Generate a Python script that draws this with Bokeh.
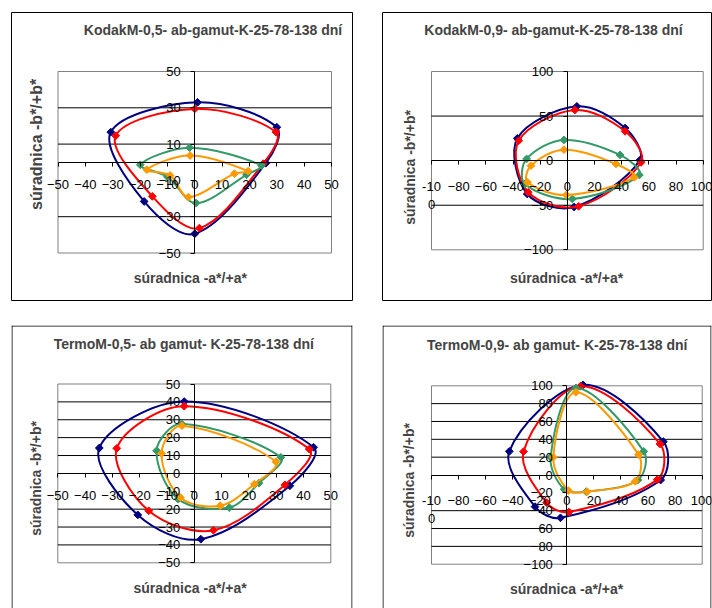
import math
from bokeh.plotting import figure
from bokeh.models import LinearAxis, FixedTicker, Label, Range1d, Span
from bokeh.layouts import column, row
from bokeh.embed import file_html
from bokeh.resources import INLINE

# ---------------- data (a*, b*) ; point order: Y, R, M, B, C, G ----------------
kodak05_blue_a = [1, 30, 26, 0, -18.5, -30.7]
kodak05_blue_b = [33, 19.3, -0.5, -39.4, -21.6, 16.6]
kodak05_red_a = [0, 29.7, 25, 1.7, -15.5, -28.9]
kodak05_red_b = [29.4, 16.6, -0.8, -36.3, -18.8, 14.6]
kodak05_green_a = [-1.9, 24.4, 18.9, 0.5, -10, -19.9]
kodak05_green_b = [8, -1.8, -6.9, -22.5, -8, -1.4]
kodak05_orange_a = [-1.7, 19.5, 14.5, -2.3, -9, -17.5]
kodak05_orange_b = [3.7, -4.9, -6.3, -19.2, -7.3, -4.1]

kodak09_blue_a = [7, 42.5, 53.3, 5, -29.5, -36.8]
kodak09_blue_b = [60.9, 36.6, 0.4, -52, -37.4, 25]
kodak09_red_a = [5.5, 42.5, 54.3, 8.3, -28.8, -35.8]
kodak09_red_b = [56.8, 32.9, -1.9, -51.2, -35.5, 22.4]
kodak09_green_a = [-2.5, 38.8, 53, 3.7, -31.3, -30]
kodak09_green_b = [23.2, 6.4, -16.1, -43, -26.2, 1.9]
kodak09_orange_a = [-2.5, 35.8, 49.3, -0.7, -29.3, -26.8]
kodak09_orange_b = [12.3, -3.7, -18.7, -38.5, -24.3, -5.6]

termo05_blue_a = [-3.7, 43.7, 35, 2.4, -20.7, -34.8]
termo05_blue_b = [40.2, 14.6, -6.9, -36.8, -23.2, 14.2]
termo05_red_a = [-3.7, 42.1, 33.2, 7, -16.7, -28.4]
termo05_red_b = [37.6, 13.6, -6.4, -31.8, -20.9, 14]
termo05_green_a = [-4.6, 31.7, 23.7, 12.8, -5.9, -13.8]
termo05_green_b = [27.7, 9, -5.4, -19.1, -14.4, 12.7]
termo05_orange_a = [-4.5, 29.9, 22, 9.5, -5.1, -12]
termo05_orange_b = [26.7, 6.5, -6, -18.1, -13.5, 11.2]

termo09_blue_a = [12, 71.3, 69.3, -4.7, -23.5, -42.5]
termo09_blue_b = [101, 37.4, -5.6, -48, -35.5, 26.5]
termo09_red_a = [10, 68.8, 66.8, 1.5, -15, -32]
termo09_red_b = [99.5, 34.8, -5.2, -41.5, -31, 26.2]
termo09_green_a = [6.7, 56.8, 52.5, 14.3, -2, -12]
termo09_green_b = [97.6, 26.5, -5.6, -18.7, -16, 20]
termo09_orange_a = [6.7, 53, 50.5, 15, 1.2, -10]
termo09_orange_b = [92.7, 22.8, -7.1, -18.7, -17.6, 20]

# ---------------- axis / tick definitions ----------------
p1_xticks = [-50, -40, -30, -20, -10, 0, 10, 20, 30, 40, 50]
p1_yticks = [-50, -30, -10, 10, 30, 50]
p1_grid = [30, 10, -30]
p2_xticks = [-100, -80, -60, -40, -20, 0, 20, 40, 60, 80, 100]
p2_yticks = [-100, -50, 0, 50, 100]
p2_grid = [50, -50]
p3_xticks = [-50, -40, -30, -20, -10, 0, 10, 20, 30, 40, 50]
p3_yticks = [-50, -40, -30, -20, -10, 0, 10, 20, 30, 40, 50]
p3_grid = [40, 30, 20, 10, -20, -30, -40]
p4_xticks = [-100, -80, -60, -40, -20, 0, 20, 40, 60, 80, 100]
p4_yticks = [-100, -80, -60, -40, -20, 0, 20, 40, 60, 80, 100]
p4_grid = [80, 60, 40, 20, -40, -60, -80]

titles = ["KodakM-0,5- ab-gamut-K-25-78-138 dní",
          "KodakM-0,9- ab-gamut-K-25-78-138 dní",
          "TermoM-0,5- ab gamut- K-25-78-138 dní",
          "TermoM-0,9- ab gamut- K-25-78-138 dní"]
x_title = "súradnica  -a*/+a*"
y_title = "súradnica  -b*/+b*"

COLORS = ["#000080", "#FF0000", "#339966", "#FF9900"]
FONT = "Liberation Sans"


def bezier_segments(xs, ys, sx, sy):
    """Closed smoothed curve (Excel-like, length weighted Catmull-Rom) as bezier pieces."""
    n = len(xs)
    d = dict(x0=[], y0=[], x1=[], y1=[], cx0=[], cy0=[], cx1=[], cy1=[])

    def dist(i, j):
        return math.hypot((xs[j] - xs[i]) * sx, (ys[j] - ys[i]) * sy)

    for i in range(n):
        i0, i1, i2, i3 = (i - 1) % n, i, (i + 1) % n, (i + 2) % n
        d01, d12, d23 = dist(i0, i1), dist(i1, i2), dist(i2, i3)
        f1 = d12 / (d01 + d12) / 3.0
        f2 = d12 / (d12 + d23) / 3.0
        d["x0"].append(xs[i1]); d["y0"].append(ys[i1])
        d["x1"].append(xs[i2]); d["y1"].append(ys[i2])
        d["cx0"].append(xs[i1] + (xs[i2] - xs[i0]) * f1)
        d["cy0"].append(ys[i1] + (ys[i2] - ys[i0]) * f1)
        d["cx1"].append(xs[i2] - (xs[i3] - xs[i1]) * f2)
        d["cy1"].append(ys[i2] - (ys[i3] - ys[i1]) * f2)
    return d


def make_panel(canvas, borders, plotbox, rng, xticks, yticks, grid, series,
               title, title_pos, xt_pos, yt_pos, overrides=None, open_bottom=False,
               ytitle_size="14px"):
    cx0, cy0, w, h = canvas
    L, R, T, B = borders
    px0, px1, py0, py1 = plotbox
    xmin, xmax, ymin, ymax = rng
    sx = (px1 - px0) / (xmax - xmin)
    sy = (py1 - py0) / (ymax - ymin)
    fx = lambda X: xmin + (X - px0) / sx
    fy = lambda Y: ymax - (Y - py0) / sy
    fr_x0, fr_x1 = cx0 + L, cx0 + w - R
    fr_y0, fr_y1 = cy0 + T, cy0 + h - B

    p = figure(width=w, height=h, output_backend="svg", toolbar_location=None,
               x_axis_type=None, y_axis_type=None,
               x_range=Range1d(fx(fr_x0), fx(fr_x1)),
               y_range=Range1d(fy(fr_y1), fy(fr_y0)),
               min_border_left=L, min_border_right=R,
               min_border_top=T, min_border_bottom=B)
    p.xgrid.visible = False
    p.ygrid.visible = False
    p.background_fill_color = "white"
    p.border_fill_color = "white"
    if open_bottom:
        # chart box continues below the visible page: draw only left, top, right edges
        p.outline_line_color = None
        for loc, dim in ((fx(fr_x0 + 0.5), "height"), (fx(fr_x1 - 0.5), "height"),
                         (fy(fr_y0 + 0.5), "width")):
            p.add_layout(Span(location=loc, dimension=dim, line_color="black", line_width=1))
    else:
        p.outline_line_color = "black"
        p.outline_line_width = 1

    # plot area border
    p.quad(left=[xmin], right=[xmax], bottom=[ymin], top=[ymax],
           fill_color=None, line_color="#808080", line_width=1)
    # horizontal gridlines
    p.segment(x0=[xmin] * len(grid), x1=[xmax] * len(grid), y0=grid, y1=grid,
              line_color="black", line_width=1)

    xa = LinearAxis(fixed_location=0, bounds=(xmin, xmax),
                    ticker=FixedTicker(ticks=xticks, minor_ticks=[]))
    ya = LinearAxis(fixed_location=0, bounds=(ymin, ymax),
                    ticker=FixedTicker(ticks=yticks, minor_ticks=[]))
    for ax in (xa, ya):
        ax.axis_line_color = "black"
        ax.major_tick_line_color = "black"
        ax.major_tick_in = 0
        ax.major_tick_out = 4
        ax.minor_tick_line_color = None
        ax.major_label_text_font = FONT
        ax.major_label_text_font_size = "13px"
        ax.major_label_text_color = "black"
    xa.major_label_standoff = 14
    ya.major_label_standoff = 10
    if overrides:
        xa.major_label_overrides = overrides
    p.add_layout(xa, "below")
    p.add_layout(ya, "left")

    for (a, b), col in zip(series, COLORS):
        d = bezier_segments(a, b, sx, sy)
        p.bezier(x0=d["x0"], y0=d["y0"], x1=d["x1"], y1=d["y1"],
                 cx0=d["cx0"], cy0=d["cy0"], cx1=d["cx1"], cy1=d["cy1"],
                 line_color=col, line_width=2)
        p.scatter(a, b, marker="square", angle=math.pi / 4, size=5.5,
                  fill_color=col, line_color=col)

    p.add_layout(Label(x=fx(title_pos[0]), y=fy(title_pos[1]), text=title,
                       text_font=FONT, text_font_size="14px", text_font_style="bold",
                       text_align="center", text_baseline="middle"))
    p.add_layout(Label(x=fx(xt_pos[0]), y=fy(xt_pos[1]), text=x_title,
                       text_font=FONT, text_font_size="14px", text_font_style="bold",
                       text_align="center", text_baseline="middle"))
    p.add_layout(Label(x=fx(yt_pos[0]), y=fy(yt_pos[1]), text=y_title, angle=math.pi / 2,
                       text_font=FONT, text_font_size=ytitle_size, text_font_style="bold",
                       text_align="center", text_baseline="middle"))
    return p


p1 = make_panel((0, 0, 367, 316), (11, 15, 12, 16), (57.5, 331, 71, 252.5), (-50, 50, -50, 50),
                p1_xticks, p1_yticks, p1_grid,
                [(kodak05_blue_a, kodak05_blue_b), (kodak05_red_a, kodak05_red_b),
                 (kodak05_green_a, kodak05_green_b), (kodak05_orange_a, kodak05_orange_b)],
                titles[0], (212.5, 29), (191.7, 277.5), (36, 141.7), ytitle_size="16px")
p2 = make_panel((367, 0, 345, 316), (15, 1, 12, 16), (431, 702.7, 71, 249.3), (-100, 100, -100, 100),
                p2_xticks, p2_yticks, p2_grid,
                [(kodak09_blue_a, kodak09_blue_b), (kodak09_red_a, kodak09_red_b),
                 (kodak09_green_a, kodak09_green_b), (kodak09_orange_a, kodak09_orange_b)],
                titles[1], (553, 29), (568, 277), (409, 165), overrides={-100: "-10\n0"})
p3 = make_panel((0, 316, 367, 292), (11, 15, 9, 0), (57.3, 330.3, 383.5, 562.3), (-50, 50, -50, 50),
                p3_xticks, p3_yticks, p3_grid,
                [(termo05_blue_a, termo05_blue_b), (termo05_red_a, termo05_red_b),
                 (termo05_green_a, termo05_green_b), (termo05_orange_a, termo05_orange_b)],
                titles[2], (183.3, 343.5), (191.5, 587), (35, 476), open_bottom=True)
p4 = make_panel((367, 316, 345, 292), (15, 1, 9, 0), (431, 701.7, 385.3, 563.7), (-100, 100, -100, 100),
                p4_xticks, p4_yticks, p4_grid,
                [(termo09_blue_a, termo09_blue_b), (termo09_red_a, termo09_red_b),
                 (termo09_green_a, termo09_green_b), (termo09_orange_a, termo09_orange_b)],
                titles[3], (556.7, 344), (568, 588), (408, 478), overrides={-100: "-10\n0"},
                open_bottom=True)

layout = column(row(p1, p2), row(p3, p4))
open("out.html", "w").write(file_html(layout, INLINE))
